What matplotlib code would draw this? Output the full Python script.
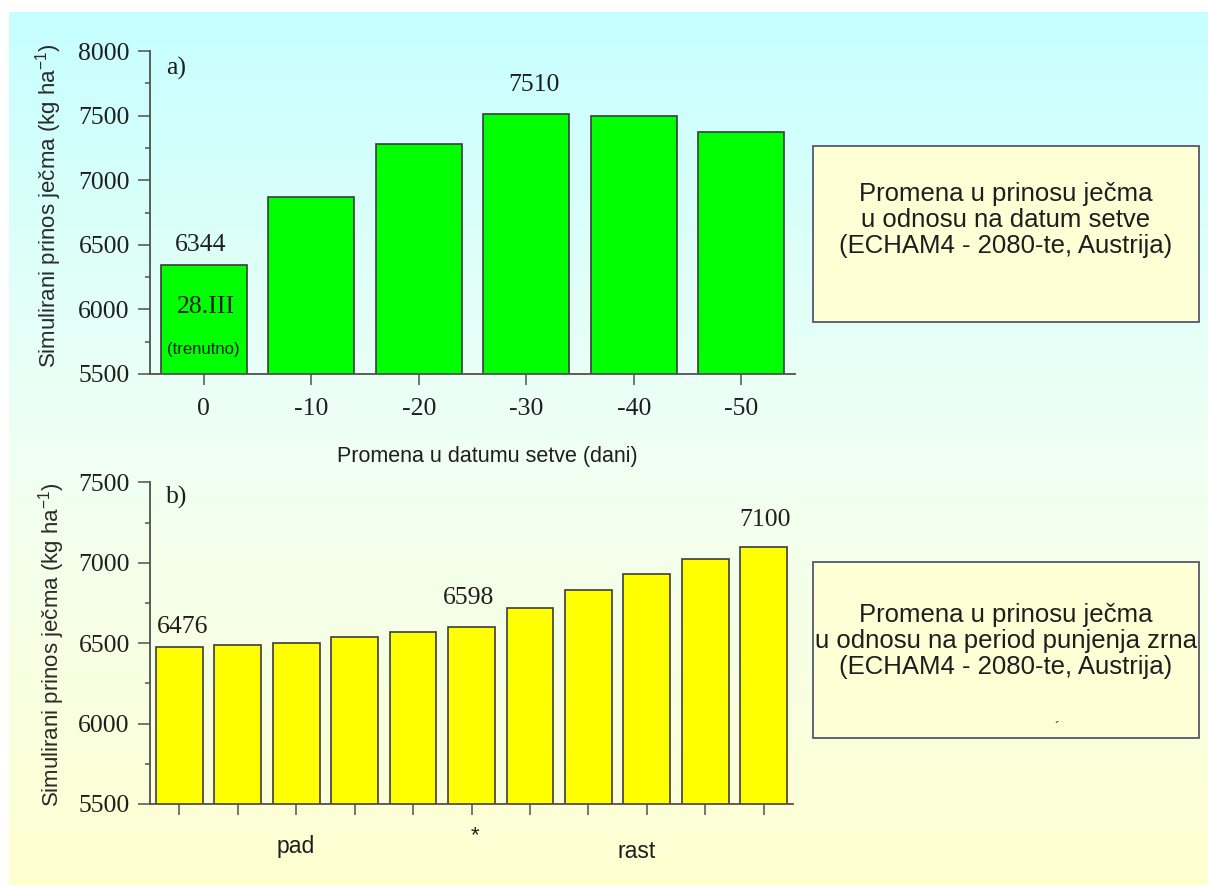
import numpy as np
import matplotlib
matplotlib.use("Agg")
import matplotlib.pyplot as plt
from matplotlib.patches import Rectangle
from matplotlib.ticker import MultipleLocator
from matplotlib.colors import LinearSegmentedColormap
import matplotlib.transforms as mtransforms

plt.rcParams["font.family"] = ["Liberation Sans", "DejaVu Sans"]
plt.rcParams["mathtext.default"] = "regular"

# ---- data -------------------------------------------------------------
sowing_shift = ["0", "-10", "-20", "-30", "-40", "-50"]
yield_sowing = [6344, 6870, 7283, 7510, 7495, 7370]

grain_fill_idx = list(range(11))
yield_grainfill = [6476, 6490, 6500, 6536, 6571, 6598, 6720, 6832, 6931, 7021, 7100]

ylabel_text = "Simulirani prinos ječma (kg ha$^{-1}$)"
xlabel_top = "Promena u datumu setve (dani)"
box_top = "Promena u prinosu ječma\nu odnosu na datum setve\n(ECHAM4 - 2080-te, Austrija)"
box_bottom = "Promena u prinosu ječma\nu odnosu na period punjenja zrna\n(ECHAM4 - 2080-te, Austrija)"

SERIF = "Liberation Serif"
TXT = "#1e1e1e"
AX = "#505050"
EDGE = "#3c3c3c"

fig = plt.figure(figsize=(12.08, 8.85), dpi=100)
W, H = 1208, 885

# ---- gradient backdrop ------------------------------------------------
bg = fig.add_axes([9 / W, 0, 1 - 9 / W, (H - 12) / H], zorder=-5)
cmap = LinearSegmentedColormap.from_list(
    "bg", [(0.0, (198/255, 1, 1)), (0.5, (240/255, 1, 244/255)), (1.0, (1, 1, 208/255))])
grad = np.linspace(0, 1, 256).reshape(-1, 1)
bg.imshow(grad, aspect="auto", cmap=cmap, extent=[0, 1, 0, 1], origin="upper")
bg.set_axis_off()


def style_axes(ax):
    for s in ("top", "right"):
        ax.spines[s].set_visible(False)
    for s in ("left", "bottom"):
        ax.spines[s].set_color(AX)
        ax.spines[s].set_linewidth(1.3)
    ax.set_facecolor("none")
    ax.yaxis.set_minor_locator(MultipleLocator(250))
    ax.tick_params(axis="y", which="major", direction="out", length=9, width=1.1,
                   color=AX, pad=5.5, labelsize=18.5, labelcolor=TXT)
    ax.tick_params(axis="y", which="minor", direction="out", length=3.8, width=1.1, color=AX)
    ax.tick_params(axis="x", which="major", direction="out", length=8, width=1.1,
                   color=AX, pad=9, labelsize=18.5, labelcolor=TXT)
    for lab in ax.get_yticklabels() + ax.get_xticklabels():
        lab.set_fontfamily(SERIF)


def fig_rect(x0, y0, x1, y1):
    return [x0 / W, 1 - y1 / H, (x1 - x0) / W, (y1 - y0) / H]


# ---- panel a) ---------------------------------------------------------
ax1 = fig.add_axes(fig_rect(150, 51, 795, 374))
xa = np.arange(len(yield_sowing))
ax1.bar(xa, yield_sowing, width=0.8, color="#00ff00", edgecolor=EDGE, linewidth=1.2)
ax1.set_xlim(-0.5, len(yield_sowing) - 0.5)
ax1.set_ylim(5500, 8000)
ax1.yaxis.set_major_locator(MultipleLocator(500))
ax1.set_xticks(xa)
ax1.set_xticklabels(sowing_shift)
style_axes(ax1)
ax1.set_ylabel(ylabel_text, fontsize=16, color="#2a2a2a", va="center")
ax1.yaxis.set_label_coords(-0.158, 0.52)
ax1.set_xlabel(xlabel_top, fontsize=15.5, color=TXT)
ax1.xaxis.set_label_coords((487 - 150) / 645, (374 - 457) / 323)
ax1.xaxis.label.set_va("center")

ax1.text(0.040, 0.947, "a)", transform=ax1.transAxes, fontsize=18.5,
         family=SERIF, color=TXT, ha="center", va="center")
for i, dx, dy in [(0, -3, 20), (3, 8, 29)]:
    ax1.annotate(str(yield_sowing[i]), (xa[i], yield_sowing[i]), xytext=(dx, dy),
                 textcoords="offset pixels", ha="center", va="center",
                 fontsize=18.5, family=SERIF, color=TXT)
ta = mtransforms.blended_transform_factory(ax1.transData, ax1.transAxes)
ax1.text(0.02, 0.207, "28.III", transform=ta, fontsize=18.5, family=SERIF,
         color=TXT, ha="center", va="center")
ax1.text(0.0, 0.077, "(trenutno)", transform=ta, fontsize=12, color=TXT,
         ha="center", va="center")

# ---- panel b) ---------------------------------------------------------
ax2 = fig.add_axes(fig_rect(150, 482.3, 793, 804))
xb = np.array(grain_fill_idx)
ax2.bar(xb, yield_grainfill, width=0.8, color="#ffff00", edgecolor=EDGE, linewidth=1.2)
ax2.set_xlim(-0.5, len(yield_grainfill) - 0.5)
ax2.set_ylim(5500, 7500)
ax2.yaxis.set_major_locator(MultipleLocator(500))
ax2.set_xticks(xb)
ax2.set_xticklabels([])
style_axes(ax2)
ax2.set_ylabel(ylabel_text, fontsize=16, color="#2a2a2a", va="center")
ax2.yaxis.set_label_coords(-0.153, 0.494)

ax2.text(0.0415, 0.952, "b)", transform=ax2.transAxes, fontsize=18.5,
         family=SERIF, color=TXT, ha="center", va="center")
for i, dx, dy in [(0, 3, 20), (5, -3, 29), (10, 1, 27)]:
    ax2.annotate(str(yield_grainfill[i]), (xb[i], yield_grainfill[i]), xytext=(dx, dy),
                 textcoords="offset pixels", ha="center", va="center",
                 fontsize=18.5, family=SERIF, color=TXT)
tb = mtransforms.blended_transform_factory(ax2.transData, ax2.transAxes)
ax2.text(2.0, -0.133, "pad", transform=tb, fontsize=16.5, color=TXT, ha="center", va="center")
ax2.text(5.06, -0.098, "*", transform=tb, fontsize=16, color=TXT, ha="center", va="center")
ax2.text(7.83, -0.148, "rast", transform=tb, fontsize=16.5, color=TXT, ha="center", va="center")

# ---- caption boxes ----------------------------------------------------
for (y0, y1, txt, ty) in [(146, 322, box_top, 220), (562, 738, box_bottom, 641)]:
    fig.patches.append(Rectangle((813 / W, 1 - y1 / H), 386 / W, (y1 - y0) / H,
                                 transform=fig.transFigure, facecolor="#ffffd6",
                                 edgecolor="#565670", linewidth=1.3, zorder=2))
    fig.text(1006 / W, 1 - ty / H, txt, ha="center", va="center", fontsize=18.5,
             color=TXT, linespacing=1.1, zorder=3, multialignment="center")
fig.text(1057 / W, 1 - 728 / H, "\u00b4", fontsize=11, color=TXT, ha="center", va="center")

fig.savefig("out.png", dpi=100)
